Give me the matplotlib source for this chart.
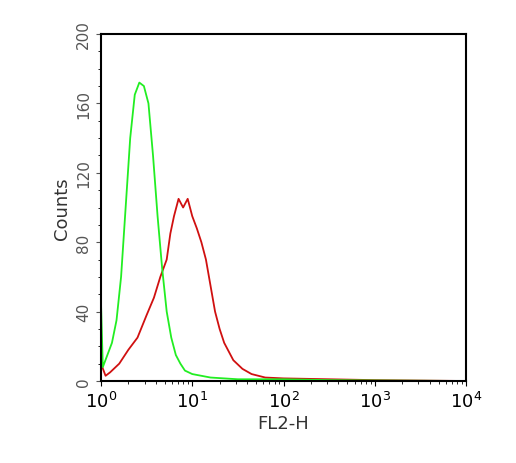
import matplotlib
matplotlib.use("Agg")
import matplotlib.pyplot as plt
import numpy as np
from matplotlib.ticker import LogLocator, MultipleLocator

green_logx = [0.0,0.02,0.07,0.12,0.17,0.22,0.27,0.32,0.37,0.42,0.47,0.52,0.57,0.62,0.67,0.72,0.77,0.82,0.87,0.92,1.0,1.2,1.5,2.0,2.5,3.0,4.0]
green_counts = [45,8,15,22,35,60,100,140,165,172,170,160,130,95,65,40,25,15,10,6,4,2,1,1,0.5,0.3,0]
red_logx = [0.0,0.05,0.1,0.2,0.3,0.4,0.5,0.58,0.65,0.72,0.76,0.8,0.85,0.9,0.95,1.0,1.05,1.1,1.15,1.2,1.25,1.3,1.35,1.45,1.55,1.65,1.8,2.0,2.5,3.0,4.0]
red_counts = [10,3,5,10,18,25,38,48,60,70,85,95,105,100,105,95,88,80,70,55,40,30,22,12,7,4,2,1.5,1,0.5,0]

fig = plt.figure(figsize=(5.16,4.64), dpi=100)
ax = fig.add_axes([101/516, 1-382/464, 365/516, 347/464])
ax.plot(10**np.array(red_logx), red_counts, color='#d01010', lw=1.3)
ax.plot(10**np.array(green_logx), green_counts, color='#22ee22', lw=1.3)
ax.set_xscale('log')
ax.set_xlim(1, 1e4)
ax.set_ylim(0, 200)
ax.set_yticks([0,40,80,120,160,200])
ax.yaxis.set_minor_locator(MultipleLocator(10))
ax.xaxis.set_minor_locator(LogLocator(base=10, subs=np.arange(2,10), numticks=20))
ax.tick_params(axis='y', labelrotation=90, labelsize=11, colors='#555')
ax.tick_params(axis='x', labelsize=13)
for l in ax.get_yticklabels():
    l.set_va('center')
ax.set_ylabel('Counts', fontsize=13, color='#333')
ax.set_xlabel('FL2-H', fontsize=13, color='#333', labelpad=2)
for s in ax.spines.values():
    s.set_linewidth(1.5)
fig.savefig('out.png', dpi=100)
